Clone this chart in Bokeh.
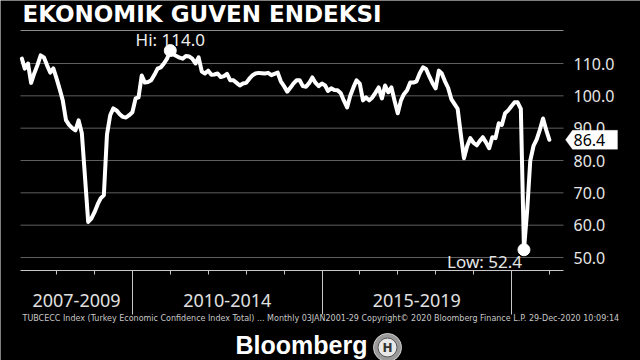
import numpy as np
import pandas as pd
from bokeh.plotting import figure
from bokeh.models import Range1d, FixedTicker, Label, PolyAnnotation
from bokeh.embed import file_html
from bokeh.resources import INLINE

# ---------------- data ----------------
title_text = "EKONOMIK GUVEN ENDEKSI"
start_month = "2007-01-01"
values = [
    # 2007
    111.5, 108.4, 110.0, 104.0, 107.0, 109.5, 112.5, 111.9, 109.5, 107.2, 108.5, 105.4,
    # 2008
    102.0, 98.6, 92.5, 91.0, 90.0, 89.3, 92.4, 88.4, 75.0, 61.0, 62.0, 64.0,
    # 2009
    66.5, 68.3, 69.3, 88.0, 94.0, 96.1, 95.5, 94.3, 93.5, 93.3, 94.0, 94.9,
    # 2010
    99.2, 99.5, 106.3, 104.1, 104.3, 104.8, 106.5, 108.4, 108.8, 110.0, 111.5, 114.0,
    # 2011
    112.8, 112.3, 111.8, 111.5, 112.3, 112.2, 111.5, 110.0, 111.9, 107.5, 106.9, 107.8,
    # 2012
    106.5, 106.6, 106.9, 105.8, 106.1, 106.8, 104.8, 104.8, 104.0, 103.2, 103.8, 104.0,
    # 2013
    105.3, 106.3, 106.9, 107.1, 107.0, 106.9, 107.1, 106.4, 106.8, 107.2, 104.5, 103.0,
    # 2014
    101.3, 102.4, 103.8, 104.8, 104.8, 103.0, 102.8, 104.0, 105.7, 104.0, 103.0, 103.8,
    # 2015
    103.2, 101.5, 102.3, 101.8, 101.7, 100.9, 98.5, 96.4, 100.0, 102.6, 104.8, 103.8,
    # 2016
    98.6, 99.5, 98.6, 99.5, 101.0, 102.6, 99.2, 103.2, 101.1, 102.6, 98.5, 94.6,
    # 2017
    98.6, 100.5, 101.7, 104.1, 104.1, 104.5, 107.0, 108.8, 108.3, 106.0, 104.0, 102.3,
    # 2018
    107.8, 106.9, 104.5, 102.5, 99.0, 97.5, 96.0, 88.0, 80.7, 84.5, 86.9, 85.5,
    # 2019
    84.7, 86.0, 87.2, 85.6, 83.8, 87.2, 86.9, 91.5, 91.0, 94.6, 95.5, 96.8,
    # 2020
    98.0, 98.0, 96.0, 52.4, 64.5, 80.0, 84.5, 86.5, 89.5, 93.0, 89.5, 86.4,
]
period_labels = ["2007-2009", "2010-2014", "2015-2019"]
period_bounds = ["2010-01-01", "2015-01-01", "2020-01-01"]
minor_years = [2008, 2009, 2011, 2012, 2013, 2014, 2016, 2017, 2018, 2019, 2021]
ytick_values = [50, 60, 70, 80, 90, 100, 110]
ytick_labels = ["50.0", "60.0", "70.0", "80.0", "90.0", "100.0", "110.0"]
footer_text = ("TUBCECC Index (Turkey Economic Confidence Index Total) ...  Monthly 03JAN2001-29  "
               "Copyright\u00a9 2020 Bloomberg Finance L.P.   29-Dec-2020 10:09:14")
brand_text = "Bloomberg"

dates = pd.date_range(start_month, periods=len(values), freq="MS") + pd.offsets.MonthEnd(0)
vals = np.array(values)

# ---------------- geometry (pixel <-> data helpers) ----------------
W, H = 640, 360
FL, FR, FT, FB = 20, 563, 30, 270          # plotting area inside the canvas
def ms(d):
    return pd.Timestamp(d).value / 1e6
t2010, t2020 = ms("2010-01-01"), ms("2020-01-01")
mpp = (t2020 - t2010) / (511 - 132)        # ms per pixel
def px2x(px):
    return t2010 + (px - 132) * mpp
ppu = (257 - 63) / 60.0                    # pixels per index unit
def px2y(py):
    return 110 + (63 - py) / ppu

x_start, x_end = px2x(FL), px2x(FR)

p = figure(width=W, height=H, x_axis_type="datetime", y_axis_location="right",
           x_range=Range1d(px2x(0), px2x(W)), y_range=Range1d(px2y(H), px2y(0)),
           output_backend="svg", toolbar_location=None,
           min_border_left=0, min_border_right=0, min_border_top=0, min_border_bottom=0)
p.background_fill_color = "black"
p.border_fill_color = "black"
p.outline_line_color = None
p.xgrid.visible = False
p.ygrid.visible = False

# x axis, fixed at the bottom of the plotting area
xa = p.xaxis[0]
xa.fixed_location = px2y(FB)
xa.bounds = (x_start, x_end)
xa.ticker = FixedTicker(ticks=[ms(d) for d in period_bounds],
                        minor_ticks=[ms(f"{y}-01-01") for y in minor_years])
xa.major_label_text_color = None
xa.major_label_text_font_size = "1px"
xa.major_tick_out = 44
xa.major_tick_in = 0
xa.minor_tick_out = 4
xa.minor_tick_in = 0
xa.axis_line_color = "#c8c8c8"
xa.major_tick_line_color = "#c8c8c8"
xa.minor_tick_line_color = "#c8c8c8"

# y axis, fixed at the right of the plotting area
ya = p.yaxis[0]
ya.fixed_location = x_end
ya.ticker = FixedTicker(ticks=ytick_values)
ya.major_label_overrides = {v: l for v, l in zip(ytick_values, ytick_labels)}
ya.axis_line_color = None
ya.major_tick_line_color = None
ya.minor_tick_line_color = None
ya.major_tick_out = 0
ya.major_tick_in = 0
ya.major_label_standoff = 10
ya.major_label_text_color = "#e6e6e6"
ya.major_label_text_font = "Noto Sans"
ya.major_label_text_font_size = "16px"

# horizontal grid lines at the y ticks, spanning the plotting area
p.segment(x0=[x_start] * len(ytick_values), x1=[x_end] * len(ytick_values),
          y0=ytick_values, y1=ytick_values, line_color="#5e5e5e", line_width=1)

# title rule
p.segment(x0=[x_start], x1=[x_end], y0=[px2y(FT)], y1=[px2y(FT)], line_color="#8a8a8a", line_width=1)

# series
p.line(dates, vals, line_width=4, line_color="white", line_join="round", line_cap="round")
i_hi, i_lo = int(np.argmax(vals)), int(np.argmin(vals))
p.scatter([dates[i_hi], dates[i_lo]], [vals[i_hi], vals[i_lo]], size=12, color="white")

def label(x, py, text, align="left", **kw):
    p.add_layout(Label(x=x, y=px2y(py), text=text, text_align=align, text_baseline="middle", **kw))

label(ms(dates[i_hi]), 38.5, f"Hi: {vals[i_hi]:.1f}", "center",
      text_color="#eeeeee", text_font="Noto Sans", text_font_size="17px")
label(ms(dates[i_lo]) - 2 * mpp, 260.5, f"Low: {vals[i_lo]:.1f}", "right",
      text_color="#e6e6e6", text_font="Noto Sans", text_font_size="17px")

# last value tag
last = vals[-1]
hh = 9.5 / ppu
p.add_layout(PolyAnnotation(xs=[px2x(565), px2x(572), px2x(617), px2x(617), px2x(572)],
                            ys=[last, last + hh, last + hh, last - hh, last - hh],
                            fill_color="white", fill_alpha=1, line_color="white", level="overlay"))
p.add_layout(Label(x=px2x(573), y=last, text=f"{last:.1f}", text_baseline="middle",
                   text_color="black", text_font="Noto Sans", text_font_size="16px", level="overlay"))

# period labels
bounds = [x_start] + [ms(d) for d in period_bounds]
for i, lab in enumerate(period_labels):
    label((bounds[i] + bounds[i + 1]) / 2, 300, lab, "center",
          text_color="#e0e0e0", text_font="Noto Sans", text_font_size="18px")

# title
label(px2x(22), 13, title_text, text_color="white", text_font="DejaVu Sans",
      text_font_style="bold", text_font_size="23px")
# footer
label(px2x(22), 318, footer_text, text_color="#c8c8c8", text_font="DejaVu Sans",
      text_font_size="8px")
label(px2x(235), 344, brand_text, text_color="white", text_font="Liberation Sans",
      text_font_style="bold", text_font_size="25px")
# small round emblem next to the brand
cx, cy = 387, 347
p.scatter([px2x(cx)], [px2y(cy)], size=28, fill_color="#9a9a9a", line_color="#d0d0d0")
p.scatter([px2x(cx)], [px2y(cy)], size=19, fill_color="#e8e8e8", line_color="#555555")
label(px2x(cx), cy, "H", "center", text_color="#333333", text_font="DejaVu Sans",
      text_font_style="bold", text_font_size="12px")

open("out.html", "w").write(file_html(p, INLINE))
